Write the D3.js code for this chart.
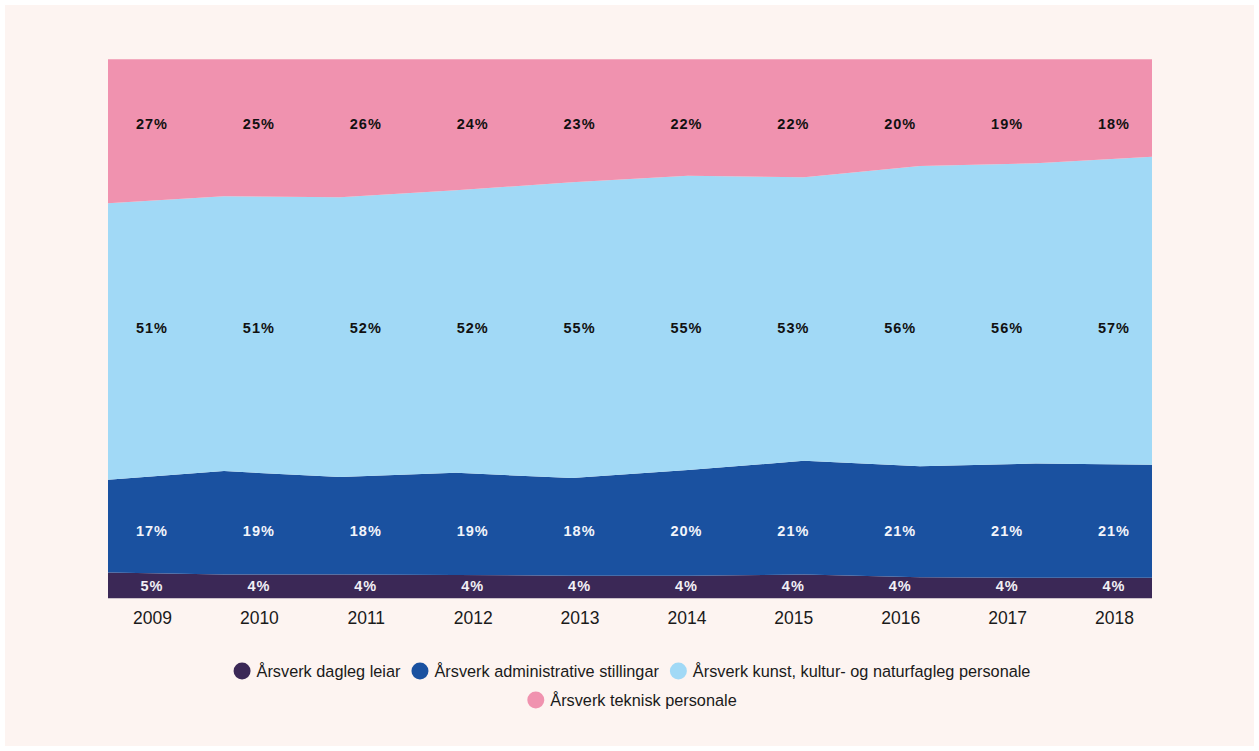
<!DOCTYPE html>
<html>
<head>
    <meta charset="utf-8">
    <title>Årsverk – andel per stillingsgruppe</title>
    <script src="https://cdn.jsdelivr.net/npm/d3@7/dist/d3.min.js" charset="utf-8"></script>
    <style>
        html, body { margin: 0; padding: 0; background: #ffffff; }
        svg { display: block; font-family: "Liberation Sans", Arial, sans-serif; }
    </style>
</head>
<body>
<script type="text/javascript">
    // data (share of årsverk, percent)
    var years = ["2009", "2010", "2011", "2012", "2013", "2014", "2015", "2016", "2017", "2018"];
    var dagleg   = [4.8, 4.4, 4.4, 4.3, 4.2, 4.2, 4.4, 3.9, 3.8, 3.8];
    var admin    = [17.2, 19.2, 18.1, 19.0, 18.1, 19.6, 21.1, 20.6, 21.2, 21.0];
    var kunst    = [51.3, 51.0, 51.9, 52.4, 54.9, 54.6, 52.6, 55.7, 55.7, 57.1];
    var teknisk  = [26.7, 25.4, 25.6, 24.3, 22.8, 21.6, 21.9, 19.8, 19.3, 18.1];

    var seriesNames = [
        "Årsverk dagleg leiar",
        "Årsverk administrative stillingar",
        "Årsverk kunst, kultur- og naturfagleg personale",
        "Årsverk teknisk personale"
    ];
    var seriesValues = [dagleg, admin, kunst, teknisk];
    var colors = ["#3b2856", "#1a51a0", "#a1d9f6", "#f092af"];
    var labelColors = ["#f2f0f5", "#f2f4fa", "#111111", "#111111"];
    // small nudges of the label rows (px)
    var labelShift = [-1, 8, 2, 4];

    var width = 1259, height = 751;
    var plot = {left: 108, right: 1152, top: 59.3, bottom: 598.3};

    var svg = d3.select("body").append("svg")
        .attr("width", width)
        .attr("height", height);

    // pinkish card
    svg.append("rect")
        .attr("x", 5).attr("y", 5)
        .attr("width", width - 10).attr("height", height - 10)
        .attr("fill", "#fdf4f1");

    // table for the stack
    var keys = d3.range(seriesValues.length);
    var table = years.map(function (yr, i) {
        var row = {year: yr};
        keys.forEach(function (k) { row[k] = seriesValues[k][i]; });
        return row;
    });
    var stacked = d3.stack().keys(keys)(table);

    var x = d3.scalePoint().domain(years).range([plot.left, plot.right]);
    var xLabel = d3.scalePoint().domain(years).range([plot.left + 44, plot.right - 38]);
    var y = d3.scaleLinear().domain([0, 100]).range([plot.bottom, plot.top]);

    var area = d3.area()
        .x(function (d) { return x(d.data.year); })
        .y0(function (d) { return y(d[0]); })
        .y1(function (d) { return y(d[1]); });

    svg.append("g").selectAll("path")
        .data(stacked).enter().append("path")
        .attr("d", area)
        .attr("fill", function (d) { return colors[d.key]; });

    // value labels, placed near the middle of the average band
    var labelG = svg.append("g")
        .attr("font-size", 14.5)
        .attr("font-weight", "bold")
        .attr("letter-spacing", "1px")
        .attr("text-anchor", "middle");

    stacked.forEach(function (s) {
        var mid = d3.mean(s, function (d) { return (d[0] + d[1]) / 2; });
        labelG.append("g").selectAll("text")
            .data(s).enter().append("text")
            .attr("x", function (d) { return xLabel(d.data.year); })
            .attr("y", y(mid) + labelShift[s.key])
            .attr("dy", "0.36em")
            .attr("fill", labelColors[s.key])
            .text(function (d) { return Math.round(d[1] - d[0]) + "%"; });
    });

    // x axis labels, no line
    var axis = d3.axisBottom(xLabel).tickSize(0).tickPadding(13);
    var axisG = svg.append("g")
        .attr("transform", "translate(0," + plot.bottom + ")")
        .call(axis);
    axisG.select(".domain").remove();
    axisG.selectAll("text")
        .attr("font-size", 17.5)
        .attr("font-family", "Liberation Sans, Arial, sans-serif")
        .attr("fill", "#1a1a1a");

    // legend in two centered rows
    var rows = [[0, 1, 2], [3]];
    var rowY = [671, 700];
    var cx = 632, r = 8.5, gapText = 6, gapItem = 11;
    rows.forEach(function (items, ri) {
        var g = svg.append("g");
        var pos = 0;
        items.forEach(function (k) {
            var item = g.append("g").attr("transform", "translate(" + pos + ",0)");
            item.append("circle")
                .attr("cx", r).attr("cy", 0).attr("r", r)
                .attr("fill", colors[k]);
            var t = item.append("text")
                .attr("x", 2 * r + gapText)
                .attr("y", 0)
                .attr("dy", "0.35em")
                .attr("font-size", 16.3)
                .attr("fill", "#1a1a1a")
                .text(seriesNames[k]);
            pos += 2 * r + gapText + t.node().getComputedTextLength() + gapItem;
        });
        pos -= gapItem;
        g.attr("transform", "translate(" + (cx - pos / 2) + "," + rowY[ri] + ")");
    });
</script>
</body>
</html>
